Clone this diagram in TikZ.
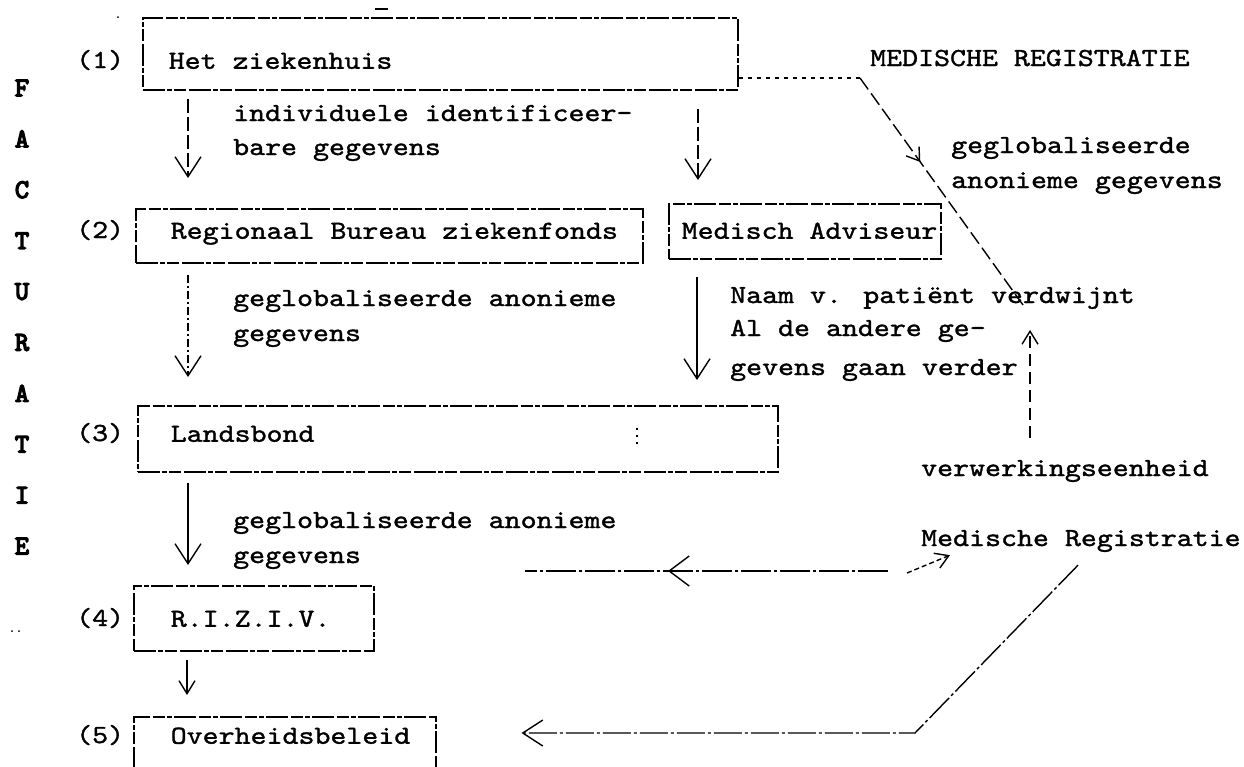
\documentclass[tikz,border=0pt]{standalone}
\usetikzlibrary{arrows.meta,decorations.markings,calc}
\font\tytf="[lmmono10-regular]:embolden=1.3;extend=1.17" at 26pt
\font\facf="[lmmono10-regular]:embolden=5" at 27pt
\newcommand\tyt{\tytf}
\newcommand\tyb{\facf}
\begin{document}
\begin{tikzpicture}[x=1pt,y=-1pt,
  box/.style={draw, line width=1.5pt, dash pattern=on 22pt off 2pt on 5pt off 2pt on 12pt off 3pt,
    anchor=north west, inner xsep=0pt, inner ysep=0pt, font=\tyt},
  lab/.style={anchor=base west, inner sep=0pt, font=\tyt},
  fac/.style={anchor=center, inner sep=0pt, font=\tyb},
  ln/.style={line width=1.4pt},
  arrowv/.style={-{Straight Barb[length=20pt,width=26pt]}},
  arrowsm/.style={-{Straight Barb[length=13pt,width=16pt]}},
  dsh/.style={dash pattern=on 14pt off 4pt},
  ddot/.style={dash pattern=on 8pt off 3pt on 2pt off 3pt},
]
\useasboundingbox (0,0) rectangle (1244,766);

% boxes
\node[box, minimum height=72pt, text height=30pt, text depth=0pt] (b1) at (142,17) {\makebox[595pt][l]{\hspace*{26pt}Het ziekenhuis}};
\node[box, minimum height=54pt, text height=18pt, text depth=12pt] (b2) at (135,208) {\makebox[507pt][l]{\hspace*{35pt}Regionaal Bureau ziekenfonds}};
\node[box, minimum height=55pt, text height=18pt, text depth=3pt] (ma) at (668,203) {\makebox[272pt][l]{\hspace*{13pt}Medisch Adviseur}};
\node[box, minimum height=66pt, text height=18pt, text depth=12pt] (b3) at (137,405) {\makebox[640pt][l]{\hspace*{33pt}Landsbond}};
\node[box, minimum height=65pt, text height=18pt, text depth=1pt] (b4) at (133,585) {\makebox[240pt][l]{\hspace*{37pt}R.I.Z.I.V.}};
\node[box, minimum height=56pt, text height=18pt, text depth=20pt] (b5) at (133,716) {\makebox[302pt][l]{\hspace*{37pt}Overheidsbeleid}};

% numbers
\node[lab] (n1) at (76,68) {(1)};
\node[lab] (n2) at (76,238) {(2)};
\node[lab] (n3) at (76,441) {(3)};
\node[lab] (n4) at (76,626) {(4)};
\node[lab] (n5) at (76,743) {(5)};

% FACTURATIE
\foreach \l [count=\i] in {F,A,C,T,U,R,A,T,I,E}
  \node[fac] (f\i) at (22,{88+50.9*(\i-1)}) {\l};

% labels
\node[lab] (t1a) at (233,121) {individuele identificeer-};
\node[lab] (t1b) at (233,155) {bare gegevens};
\node[lab] (t2a) at (233,306) {geglobaliseerde anonieme};
\node[lab] (t2b) at (233,341) {gegevens};
\node[lab] (t3a) at (730,303) {Naam v. patiënt verdwijnt};
\node[lab] (t3b) at (730,336) {Al de andere ge-};
\node[lab] (t3c) at (730,375) {gevens gaan verder};
\node[lab] (med) at (870,66) {MEDISCHE REGISTRATIE};
\node[lab] (t4a) at (951,153) {geglobaliseerde};
\node[lab] (t4b) at (951,188) {anonieme gegevens};
\node[lab] (verw) at (921,476) {verwerkingseenheid};
\node[lab] (mr) at (921,546) {Medische Registratie};
\node[lab] (t5a) at (233,528) {geglobaliseerde anonieme};
\node[lab] (t5b) at (233,563) {gegevens};

% vertical arrows
\coordinate (a1) at ($(b1.south west)+(46,0)$);
\draw[ln,dsh,arrowv,shorten <=8pt,shorten >=30pt] (a1) -- (a1 |- b2.north);
\coordinate (a2) at ($(b1.south west)+(556,0)$);
\draw[ln,dsh,arrowv,shorten <=18pt,shorten >=23pt] (a2) -- (a2 |- ma.north);
\coordinate (a3) at ($(b2.south west)+(53,0)$);
\draw[ln,ddot,arrowv,shorten <=11pt,shorten >=28pt] (a3) -- (a3 |- b3.north);
\coordinate (a4) at ($(ma.south west)+(29,0)$);
\draw[ln,arrowv,shorten <=17pt,shorten >=25pt] (a4) -- (a4 |- b3.north);
\coordinate (a5) at ($(b3.south west)+(51,0)$);
\draw[ln,arrowv,shorten <=10pt,shorten >=20pt] (a5) -- (a5 |- b4.north);
\coordinate (a6) at ($(b4.south west)+(54,0)$);
\draw[ln,arrowsm,shorten <=8pt,shorten >=21pt] (a6) -- (a6 |- b5.north);

% diagonal from hospital
\coordinate (d0) at ($(b1.north east)+(0,61)$);
\coordinate (d1) at (860,78);
\coordinate (d2) at (1023,305);
\draw[ln, dash pattern=on 4pt off 5pt] (d0) -- (d1);
\draw[ln, dash pattern=on 14pt off 5pt, postaction={decorate},
  decoration={markings, mark=at position 0.37 with {\arrow{Straight Barb[length=12pt,width=16pt]}}}] (d1) -- (d2);

% up arrow from verwerkingseenheid
\coordinate (v0) at ($(verw.north west)+(109,-22)$);
\coordinate (v1) at ($(verw.north west)+(109,-130)$);
\draw[ln, dash pattern=on 12pt off 6pt, arrowsm] (v0) -- (v1);

% horizontal exchange arrow
\coordinate (h0) at (525,571);
\coordinate (h1) at (888,571);
\draw[ln, dash pattern=on 30pt off 3pt on 3pt off 3pt, postaction={decorate},
  decoration={markings, mark=at position 0.606 with {\arrow{Straight Barb[length=20pt,width=30pt]}}}] (h1) -- (h0);
\coordinate (h2) at (907,573);
\coordinate (h3) at ($(mr.south west)+(29,3)$);
\draw[ln, dash pattern=on 5pt off 3pt, arrowsm] (h2) -- (h3);

% bottom return arrow
\coordinate (m0) at ($(mr.south west)+(157,13)$);
\coordinate (m1) at (915,733);
\draw[ln, dash pattern=on 28pt off 3pt on 3pt off 3pt, arrowv, shorten >=85pt] (m0) -- (m1) -- (m1 -| b5.east);

% small marks
\draw[line width=1.2pt, dash pattern=on 2pt off 5pt] (637,428) -- (637,447);
\draw[line width=1.2pt] (375,9) -- (388,9);
\fill (12,631) circle (1pt) (19,631) circle (1pt) (118,17) circle (1pt);
\end{tikzpicture}
\end{document}
